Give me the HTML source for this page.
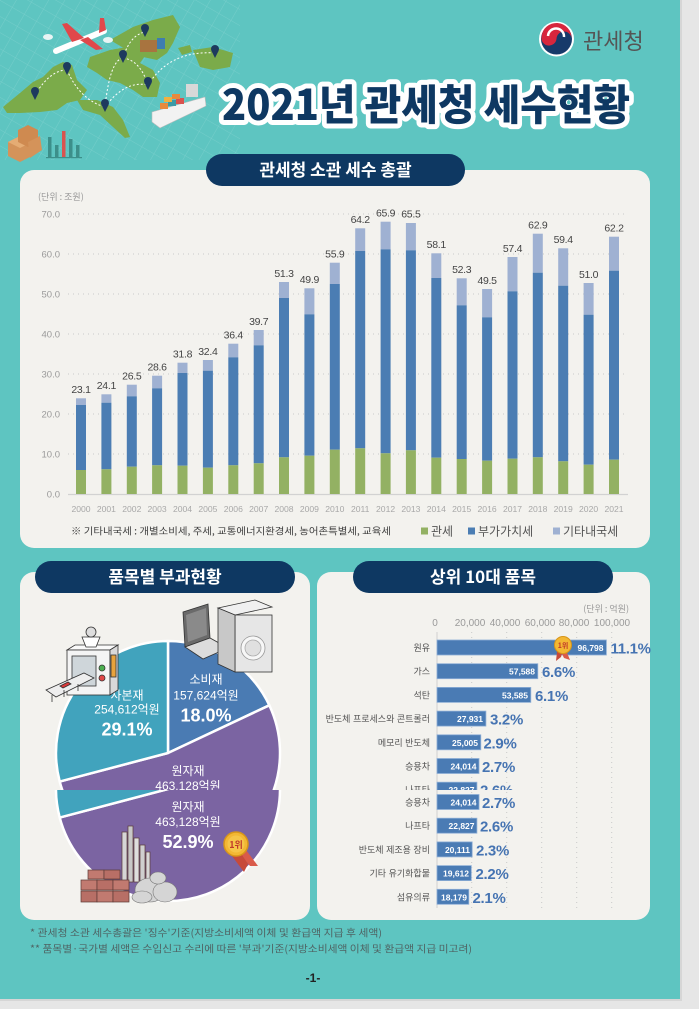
<!DOCTYPE html>
<html><head><meta charset="utf-8"><style>
html,body{margin:0;padding:0;background:#e6e6e6;}
svg{display:block;}
text{font-family:"Liberation Sans","Noto Sans CJK KR",sans-serif;}
.k{font-family:"Noto Sans CJK KR","Liberation Sans",sans-serif;}
</style></head><body>
<svg width="699" height="1009" viewBox="0 0 699 1009" xmlns="http://www.w3.org/2000/svg">
<defs>
<pattern id="grid" width="14" height="14" patternUnits="userSpaceOnUse" patternTransform="rotate(30)">
<path d="M0 0 L14 0 M0 0 L0 14" stroke="#ffffff" stroke-opacity="0.18" stroke-width="0.8"/>
</pattern>
<clipPath id="cA"><rect x="0" y="0" width="699" height="790"/></clipPath>
<clipPath id="cB"><rect x="0" y="790" width="699" height="130"/></clipPath>
</defs>
<rect x="0" y="0" width="699" height="1009" fill="#e6e6e6"/>
<rect x="0" y="0" width="680" height="999" fill="#5ec5c1"/>
<rect x="680" y="0" width="2" height="1000" fill="#d6d6d6"/>
<rect x="0" y="999" width="682" height="2" fill="#d6d6d6"/>

<!-- top-left illustration -->
<rect x="0" y="0" width="240" height="160" fill="url(#grid)"/>
<g fill="#7bab4a">
<polygon points="3,107 20,93 33,82 43,77 53,67 63,62 72,65 77,80 87,90 80,100 67,103 57,110 40,112 20,113 7,113"/>
<polygon points="77,100 97,100 113,107 123,120 130,137 125,138 113,127 100,115 83,110"/>
<polygon points="90,57 110,50 127,47 140,43 147,53 140,63 153,70 160,83 157,97 143,97 133,90 120,83 107,80 97,73 87,67"/>
<polygon points="110,40 133,27 153,20 173,15 180,27 173,43 167,53 157,60 143,57 127,50"/>
<polygon points="193,50 213,47 233,53 230,67 213,70 200,67"/>
<polygon points="178,48 190,45 192,52 182,55"/>
</g>
<g fill="none" stroke="#ffffff" stroke-width="1" stroke-dasharray="2,2">
<path d="M35,95 Q50,70 67,70"/><path d="M67,70 Q80,100 105,107"/><path d="M105,107 Q110,60 123,58"/>
<path d="M123,58 Q130,35 145,32"/><path d="M105,107 Q125,80 148,85"/><path d="M123,58 Q140,60 148,85"/>
<path d="M148,85 Q170,50 215,53"/>
</g>
<g fill="#1d3a5e">
<circle cx="145" cy="28" r="4"/><polygon points="141.5,30 148.5,30 145,37"/>
<circle cx="123" cy="54" r="4"/><polygon points="119.5,56 126.5,56 123,63"/>
<circle cx="67" cy="66" r="4"/><polygon points="63.5,68 70.5,68 67,75"/>
<circle cx="35" cy="91" r="4"/><polygon points="31.5,93 38.5,93 35,100"/>
<circle cx="105" cy="103" r="4"/><polygon points="101.5,105 108.5,105 105,112"/>
<circle cx="148" cy="81" r="4"/><polygon points="144.5,83 151.5,83 148,90"/>
<circle cx="215" cy="49" r="4"/><polygon points="211.5,51 218.5,51 215,58"/>
</g>
<!-- airplane -->
<line x1="56" y1="51" x2="104" y2="31" stroke="#ffffff" stroke-width="6" stroke-linecap="round"/>
<polygon points="72,42 62,24 67,23 84,38" fill="#e0484b"/>
<polygon points="80,40 96,50 103,49 88,37" fill="#e0484b"/>
<polygon points="99,33 100,18 104,18 106,30" fill="#e0484b"/>
<ellipse cx="48" cy="37" rx="5" ry="3" fill="#e9f4f4"/><ellipse cx="108" cy="40" rx="5" ry="3" fill="#e9f4f4"/>
<!-- truck -->
<rect x="140" y="40" width="17" height="12" fill="#a8743f"/><rect x="157" y="38" width="8" height="11" fill="#3e7db0"/>
<!-- ship -->
<polygon points="152,112 205,97 206,106 160,128 152,122" fill="#f2f2f2" stroke="#bbb" stroke-width="0.6"/>
<rect x="186" y="84" width="12" height="13" fill="#d8d8d8"/>
<rect x="160" y="103" width="8" height="6" fill="#e88a3c"/><rect x="168" y="100" width="8" height="6" fill="#3a9aa8"/>
<rect x="176" y="98" width="8" height="6" fill="#d9534f"/><rect x="164" y="97" width="8" height="5" fill="#f0b040"/>
<rect x="172" y="94" width="8" height="5" fill="#e88a3c"/>
<!-- boxes -->
<polygon points="8,142 20,136 32,142 32,156 20,162 8,156" fill="#d4935a"/>
<polygon points="20,136 32,142 20,148 8,142" fill="#e5ac74"/>
<polygon points="18,130 28,125 38,130 38,142 28,147 18,142" fill="#cf8a50"/>
<polygon points="28,142 40,136 42,150 30,158" fill="#d4935a"/>
<!-- bar icon -->
<rect x="48" y="137" width="3.5" height="20" fill="#3c8f8a"/><rect x="55" y="145" width="3.5" height="12" fill="#3c8f8a"/>
<rect x="62" y="131" width="3.5" height="26" fill="#d9534f"/><rect x="69" y="139" width="3.5" height="18" fill="#3c8f8a"/>
<rect x="76" y="145" width="3.5" height="12" fill="#3c8f8a"/><rect x="46" y="157" width="36" height="1.2" fill="#3c8f8a"/>

<!-- logo -->
<circle cx="556.5" cy="39" r="17.5" fill="#ffffff"/>
<circle cx="556.5" cy="39" r="15.5" fill="#173a6a"/>
<path d="M541.5,37 A15,15 0 0 1 571.5,39 A7.5,7.5 0 0 0 556.5,39 A7.5,7.5 0 0 1 541.5,37 Z" fill="#d7263d"/>
<path d="M548,36 A8,8 0 0 1 564,37" fill="none" stroke="#ffffff" stroke-width="2.5"/>
<text x="583" y="49" font-size="22" fill="#555555" class="k">관세청</text>

<!-- big title -->
<text x="426" y="120" text-anchor="middle" font-size="42" font-weight="900" fill="#0e3862" stroke="#ffffff" stroke-width="10" stroke-linejoin="round" paint-order="stroke" textLength="408" lengthAdjust="spacingAndGlyphs" class="k">2021년 관세청 세수현황</text>

<!-- main panel -->
<rect x="20" y="170" width="630" height="378" rx="14" fill="#f3f2ee"/>
<rect x="206" y="154" width="259" height="32" rx="16" fill="#0e3862"/>
<text x="335.5" y="176" text-anchor="middle" font-size="17" font-weight="bold" fill="#ffffff" class="k">관세청 소관 세수 총괄</text>

<text x="38" y="200" font-size="9" fill="#999" class="k">(단위 : 조원)</text>
<g stroke="#c9c9c9" stroke-width="1" stroke-dasharray="1,4">
<line x1="68" y1="214" x2="628" y2="214"/><line x1="68" y1="254" x2="628" y2="254"/>
<line x1="68" y1="294" x2="628" y2="294"/><line x1="68" y1="334" x2="628" y2="334"/>
<line x1="68" y1="374" x2="628" y2="374"/><line x1="68" y1="414" x2="628" y2="414"/>
<line x1="68" y1="454" x2="628" y2="454"/>
</g>
<line x1="68" y1="494.5" x2="628" y2="494.5" stroke="#d2d2d2" stroke-width="1.2"/>
<g font-size="9.5" fill="#9a9a9a" text-anchor="end">
<text x="60" y="217.5">70.0</text><text x="60" y="257.5">60.0</text><text x="60" y="297.5">50.0</text>
<text x="60" y="337.5">40.0</text><text x="60" y="377.5">30.0</text><text x="60" y="417.5">20.0</text>
<text x="60" y="457.5">10.0</text><text x="60" y="497.5">0.0</text>
</g>

<g id="bars">
<g fill="#9fb1d2"><rect x="76" y="398.3" width="10" height="6.7"/><rect x="101.4" y="394.3" width="10" height="8.4"/><rect x="126.8" y="384.7" width="10" height="11.6"/><rect x="152.1" y="375.7" width="10" height="12.6"/><rect x="177.5" y="362.7" width="10" height="10.3"/><rect x="202.9" y="360" width="10" height="10.7"/><rect x="228.3" y="343.7" width="10" height="13.6"/><rect x="253.7" y="330" width="10" height="15.3"/><rect x="279" y="282" width="10" height="16"/><rect x="304.4" y="288.3" width="10" height="26"/><rect x="329.8" y="262.7" width="10" height="21.3"/><rect x="355.2" y="228.3" width="10" height="22.7"/><rect x="380.6" y="221.7" width="10" height="27.6"/><rect x="405.9" y="223" width="10" height="27.3"/><rect x="431.3" y="253.3" width="10" height="24.7"/><rect x="456.7" y="278.3" width="10" height="27"/><rect x="482.1" y="289" width="10" height="28.3"/><rect x="507.5" y="257" width="10" height="34.3"/><rect x="532.8" y="233.7" width="10" height="39"/><rect x="558.2" y="248.3" width="10" height="37.4"/><rect x="583.6" y="283" width="10" height="31.7"/><rect x="609" y="236.7" width="10" height="34"/></g>
<g fill="#4b7db3"><rect x="76" y="405" width="10" height="65"/><rect x="101.4" y="402.7" width="10" height="66.6"/><rect x="126.8" y="396.3" width="10" height="70.4"/><rect x="152.1" y="388.3" width="10" height="77"/><rect x="177.5" y="373" width="10" height="92.7"/><rect x="202.9" y="370.7" width="10" height="97"/><rect x="228.3" y="357.3" width="10" height="108"/><rect x="253.7" y="345.3" width="10" height="118"/><rect x="279" y="298" width="10" height="159.3"/><rect x="304.4" y="314.3" width="10" height="141.4"/><rect x="329.8" y="284" width="10" height="165.7"/><rect x="355.2" y="251" width="10" height="197.3"/><rect x="380.6" y="249.3" width="10" height="204"/><rect x="405.9" y="250.3" width="10" height="200"/><rect x="431.3" y="278" width="10" height="179.7"/><rect x="456.7" y="305.3" width="10" height="153.7"/><rect x="482.1" y="317.3" width="10" height="143.4"/><rect x="507.5" y="291.3" width="10" height="167.4"/><rect x="532.8" y="272.7" width="10" height="184.6"/><rect x="558.2" y="285.7" width="10" height="175.6"/><rect x="583.6" y="314.7" width="10" height="150"/><rect x="609" y="270.7" width="10" height="189"/></g>
<g fill="#93b163"><rect x="76" y="470" width="10" height="24"/><rect x="101.4" y="469.3" width="10" height="24.7"/><rect x="126.8" y="466.7" width="10" height="27.3"/><rect x="152.1" y="465.3" width="10" height="28.7"/><rect x="177.5" y="465.7" width="10" height="28.3"/><rect x="202.9" y="467.7" width="10" height="26.3"/><rect x="228.3" y="465.3" width="10" height="28.7"/><rect x="253.7" y="463.3" width="10" height="30.7"/><rect x="279" y="457.3" width="10" height="36.7"/><rect x="304.4" y="455.7" width="10" height="38.3"/><rect x="329.8" y="449.7" width="10" height="44.3"/><rect x="355.2" y="448.3" width="10" height="45.7"/><rect x="380.6" y="453.3" width="10" height="40.7"/><rect x="405.9" y="450.3" width="10" height="43.7"/><rect x="431.3" y="457.7" width="10" height="36.3"/><rect x="456.7" y="459" width="10" height="35"/><rect x="482.1" y="460.7" width="10" height="33.3"/><rect x="507.5" y="458.7" width="10" height="35.3"/><rect x="532.8" y="457.3" width="10" height="36.7"/><rect x="558.2" y="461.3" width="10" height="32.7"/><rect x="583.6" y="464.7" width="10" height="29.3"/><rect x="609" y="459.7" width="10" height="34.3"/></g>
</g>
<g font-size="10.5" fill="#444" text-anchor="middle" letter-spacing="-0.3">
<text x="81" y="393">23.1</text><text x="106.4" y="389">24.1</text><text x="131.8" y="379.5">26.5</text><text x="157.1" y="370.5">28.6</text><text x="182.5" y="357.5">31.8</text><text x="207.9" y="355">32.4</text><text x="233.3" y="338.5">36.4</text><text x="258.7" y="325">39.7</text><text x="284" y="277">51.3</text><text x="309.4" y="283">49.9</text><text x="334.8" y="257.5">55.9</text><text x="360.2" y="223">64.2</text><text x="385.6" y="216.5">65.9</text><text x="410.9" y="217.5">65.5</text><text x="436.3" y="248">58.1</text><text x="461.7" y="273">52.3</text><text x="487.1" y="284">49.5</text><text x="512.5" y="252">57.4</text><text x="537.8" y="228.5">62.9</text><text x="563.2" y="243">59.4</text><text x="588.6" y="278">51.0</text><text x="614" y="231.5">62.2</text>
</g>
<g font-size="8.6" fill="#a8a8a8" text-anchor="middle">
<text x="81" y="512">2000</text><text x="106.4" y="512">2001</text><text x="131.8" y="512">2002</text><text x="157.1" y="512">2003</text><text x="182.5" y="512">2004</text><text x="207.9" y="512">2005</text><text x="233.3" y="512">2006</text><text x="258.7" y="512">2007</text><text x="284" y="512">2008</text><text x="309.4" y="512">2009</text><text x="334.8" y="512">2010</text><text x="360.2" y="512">2011</text><text x="385.6" y="512">2012</text><text x="410.9" y="512">2013</text><text x="436.3" y="512">2014</text><text x="461.7" y="512">2015</text><text x="487.1" y="512">2016</text><text x="512.5" y="512">2017</text><text x="537.8" y="512">2018</text><text x="563.2" y="512">2019</text><text x="588.6" y="512">2020</text><text x="614" y="512">2021</text>
</g>
<text x="71" y="534.5" font-size="9.6" fill="#3f3f3f" class="k" textLength="320" lengthAdjust="spacingAndGlyphs">※ 기타내국세 : 개별소비세, 주세, 교통에너지환경세, 농어촌특별세, 교육세</text>
<rect x="421" y="527.5" width="7" height="7" fill="#93b163"/>
<text x="431" y="535.5" font-size="12" fill="#555" class="k">관세</text>
<rect x="468" y="527.5" width="7" height="7" fill="#4b7db3"/>
<text x="478" y="535.5" font-size="12" fill="#555" class="k">부가가치세</text>
<rect x="553" y="527.5" width="7" height="7" fill="#9fb1d2"/>
<text x="563" y="535.5" font-size="12" fill="#555" class="k">기타내국세</text>

<!-- pie panel -->
<rect x="20" y="572" width="290" height="348" rx="14" fill="#f3f2ee"/>
<rect x="35" y="561" width="260" height="32" rx="16" fill="#0e3862"/>
<text x="165" y="583" text-anchor="middle" font-size="17" font-weight="bold" fill="#ffffff" class="k">품목별 부과현황</text>

<g clip-path="url(#cA)">
<g stroke="#ffffff" stroke-width="2.5" stroke-linejoin="round">
<path d="M168,753 L168,641 A112,112 0 0 1 269.34,705.31 Z" fill="#4a7bb3"/>
<path d="M168,753 L269.34,705.31 A112,112 0 1 1 59.70,781.54 Z" fill="#7b64a2"/>
<path d="M168,753 L59.70,781.54 A112,112 0 0 1 168,641 Z" fill="#41a3bd"/>
</g>
<g fill="#ffffff" text-anchor="middle" class="k">
<text x="206" y="683.5" font-size="12">소비재</text>
<text x="206" y="699.5" font-size="12">157,624억원</text>
<text x="206" y="721.5" font-size="18" font-weight="bold">18.0%</text>
<text x="127" y="699.5" font-size="12">자본재</text>
<text x="127" y="713.5" font-size="12">254,612억원</text>
<text x="127" y="735.5" font-size="18" font-weight="bold">29.1%</text>
<text x="188" y="775" font-size="12">원자재</text>
<text x="188" y="790" font-size="12">463,128억원</text>
</g>
</g>
<g clip-path="url(#cB)"><g transform="translate(0,36)">
<g stroke="#ffffff" stroke-width="2.5" stroke-linejoin="round">
<path d="M168,753 L168,641 A112,112 0 0 1 269.34,705.31 Z" fill="#4a7bb3"/>
<path d="M168,753 L269.34,705.31 A112,112 0 1 1 59.70,781.54 Z" fill="#7b64a2"/>
<path d="M168,753 L59.70,781.54 A112,112 0 0 1 168,641 Z" fill="#41a3bd"/>
</g>
<g fill="#ffffff" text-anchor="middle" class="k">
<text x="188" y="775" font-size="12">원자재</text>
<text x="188" y="790" font-size="12">463,128억원</text>
<text x="188" y="812" font-size="18" font-weight="bold">52.9%</text>
</g>
</g></g>

<!-- pie illustrations -->
<g stroke="#333" stroke-width="0.8">
<polygon points="67,650 110,650 118,645 75,645" fill="#fafafa"/>
<rect x="67" y="650" width="43" height="45" fill="#f4f4f4"/>
<polygon points="110,650 118,645 118,690 110,695" fill="#d9d9d9"/>
<rect x="72" y="656" width="24" height="30" fill="#cfd6da"/>
<circle cx="102" cy="668" r="3" fill="#4caf50"/><circle cx="102" cy="678" r="3" fill="#e04848"/>
<rect x="111" y="655" width="5" height="22" fill="#e8a33c"/>
<polygon points="82,637 100,637 96,647 86,647" fill="#ffffff"/>
<circle cx="91" cy="632" r="5" fill="#dddddd"/>
<polygon points="46,690 84,673 94,678 56,697" fill="#eeeeee"/>
<polygon points="60,686 68,682 71,684 63,688" fill="#d93a3a"/>
<line x1="52" y1="695" x2="52" y2="702"/><line x1="64" y1="690" x2="64" y2="697"/><line x1="78" y1="684" x2="78" y2="691"/>
</g>
<g stroke="#333" stroke-width="0.8">
<polygon points="183,612 208,604 210,638 185,647" fill="#6a6a6a"/>
<polygon points="186,615 206,608 207,635 188,642" fill="#8a8a8a" stroke="none"/>
<polygon points="185,647 210,638 228,648 203,659" fill="#dcdcdc"/>
<polygon points="218,608 255,600 272,607 235,615" fill="#f0f0f0"/>
<rect x="235" y="615" width="37" height="57" fill="#e6e6e6"/>
<polygon points="218,608 235,615 235,672 218,664" fill="#c8c8c8"/>
<circle cx="253" cy="648" r="12" fill="#f7f7f7" stroke="#999"/>
<circle cx="253" cy="648" r="8" fill="#e0e0e0" stroke="#aaa"/>
</g>
<g stroke="#5a3a36" stroke-width="0.7">
<rect x="122" y="832" width="5" height="50" fill="#d6d6d6"/><rect x="128" y="826" width="5" height="56" fill="#c8c8c8"/>
<rect x="134" y="838" width="5" height="44" fill="#dedede"/><rect x="140" y="845" width="5" height="37" fill="#cfcfcf"/>
<rect x="146" y="852" width="4" height="30" fill="#d8d8d8"/>
<rect x="88" y="870" width="16" height="9" fill="#c17a70"/><rect x="104" y="870" width="16" height="9" fill="#b86f66"/>
<rect x="81" y="880" width="16" height="10" fill="#c17a70"/><rect x="97" y="880" width="16" height="10" fill="#b86f66"/><rect x="113" y="880" width="16" height="10" fill="#c17a70"/>
<rect x="81" y="891" width="16" height="11" fill="#b86f66"/><rect x="97" y="891" width="16" height="11" fill="#c17a70"/><rect x="113" y="891" width="16" height="11" fill="#b86f66"/>
</g>
<g fill="#d5d5d5" stroke="#777" stroke-width="0.6">
<ellipse cx="150" cy="890" rx="15" ry="12"/><ellipse cx="165" cy="892" rx="12" ry="10"/><ellipse cx="142" cy="897" rx="10" ry="6"/><ellipse cx="158" cy="878" rx="8" ry="6"/>
</g>
<polygon points="238,852 246,850 258,866 250,866" fill="#d95b4a"/>
<polygon points="240,852 232,856 244,872 248,864" fill="#c74a3a"/>
<circle cx="236" cy="844" r="12" fill="#f3b733" stroke="#d8961a" stroke-width="1.5"/>
<circle cx="236" cy="844" r="8.5" fill="#f6c548"/>
<text x="236" y="848" text-anchor="middle" font-size="9" font-weight="bold" fill="#c0392b" class="k">1위</text>

<!-- top 10 panel -->
<rect x="317" y="572" width="333" height="348" rx="14" fill="#f3f2ee"/>
<rect x="353" y="561" width="260" height="32" rx="16" fill="#0e3862"/>
<text x="483" y="583" text-anchor="middle" font-size="17" font-weight="bold" fill="#ffffff" class="k">상위 10대 품목</text>
<text x="629" y="612" text-anchor="end" font-size="9" fill="#999" class="k">(단위 : 억원)</text>
<g font-size="10" fill="#9a9a9a" text-anchor="middle">
<text x="435" y="626">0</text><text x="470" y="626">20,000</text><text x="505" y="626">40,000</text>
<text x="540" y="626">60,000</text><text x="574" y="626">80,000</text><text x="612" y="626">100,000</text>
</g>
<g stroke="#c9c9c9" stroke-width="1" stroke-dasharray="1,4">
<line x1="471.7" y1="632" x2="471.7" y2="908"/><line x1="506.7" y1="632" x2="506.7" y2="908"/>
<line x1="541.7" y1="632" x2="541.7" y2="908"/><line x1="576.7" y1="632" x2="576.7" y2="908"/>
<line x1="611.7" y1="632" x2="611.7" y2="908"/>
</g>
<line x1="437" y1="632" x2="437" y2="908" stroke="#d0d0d0" stroke-width="1"/>

<g clip-path="url(#cA)">
<g fill="#4a7bb4" stroke="#8eaed6" stroke-width="0.8">
<rect x="437" y="640" width="169.4" height="15"/><rect x="437" y="663.7" width="100.8" height="15"/>
<rect x="437" y="687.4" width="93.8" height="15"/><rect x="437" y="711.1" width="48.9" height="15"/>
<rect x="437" y="734.8" width="43.8" height="15"/><rect x="437" y="758.5" width="42" height="15"/>
<rect x="437" y="782.2" width="39.9" height="15"/>
</g>
<g font-size="9" fill="#555" text-anchor="end" class="k">
<text x="430" y="651">원유</text><text x="430" y="674.7">가스</text><text x="430" y="698.4">석탄</text>
<text x="430" y="722.1">반도체 프로세스와 콘트롤러</text><text x="430" y="745.8">메모리 반도체</text>
<text x="430" y="769.5">승용차</text><text x="430" y="793.2">나프타</text>
</g>
<g font-size="8.5" font-weight="bold" fill="#ffffff" text-anchor="end">
<text x="603.5" y="651">96,798</text><text x="535" y="674.7">57,588</text><text x="528" y="698.4">53,585</text>
<text x="483" y="722.1">27,931</text><text x="478" y="745.8">25,005</text><text x="476.5" y="769.5">24,014</text>
<text x="474.5" y="793.2">22,827</text>
</g>
<g font-size="15" font-weight="bold" fill="#4674b2" letter-spacing="-0.3">
<text x="610.5" y="653.5">11.1%</text><text x="542" y="677.2">6.6%</text><text x="535" y="700.9">6.1%</text>
<text x="490" y="724.6">3.2%</text><text x="483.5" y="748.3">2.9%</text><text x="482" y="772">2.7%</text>
<text x="480" y="795.7">2.6%</text>
</g>
</g>
<g clip-path="url(#cB)"><g transform="translate(0,36)">
<g fill="#4a7bb4" stroke="#8eaed6" stroke-width="0.8">
<rect x="437" y="758.5" width="42" height="15"/><rect x="437" y="782.2" width="39.9" height="15"/>
<rect x="437" y="805.9" width="35.2" height="15"/><rect x="437" y="829.6" width="34.3" height="15"/>
<rect x="437" y="853.3" width="31.8" height="15"/>
</g>
<g font-size="9" fill="#555" text-anchor="end" class="k">
<text x="430" y="769.5">승용차</text><text x="430" y="793.2">나프타</text><text x="430" y="816.9">반도체 제조용 장비</text>
<text x="430" y="840.6">기타 유기화합물</text><text x="430" y="864.3">섬유의류</text>
</g>
<g font-size="8.5" font-weight="bold" fill="#ffffff" text-anchor="end">
<text x="476.5" y="769.5">24,014</text><text x="474.5" y="793.2">22,827</text><text x="470" y="816.9">20,111</text>
<text x="469" y="840.6">19,612</text><text x="467" y="864.3">18,179</text>
</g>
<g font-size="15" font-weight="bold" fill="#4674b2" letter-spacing="-0.3">
<text x="482" y="772">2.7%</text><text x="480" y="795.7">2.6%</text><text x="476" y="819.4">2.3%</text>
<text x="475.5" y="843.1">2.2%</text><text x="472.5" y="866.8">2.1%</text>
</g>
</g></g>
<!-- medal on 원유 -->
<polygon points="560,650 566,650 570,660 564,658" fill="#d95b4a"/>
<polygon points="563,650 557,652 556,661 561,657" fill="#c74a3a"/>
<circle cx="563" cy="645" r="8.5" fill="#f3b733" stroke="#d8961a" stroke-width="1"/>
<text x="563" y="648" text-anchor="middle" font-size="7" font-weight="bold" fill="#c0392b" class="k">1위</text>

<!-- footer -->
<text x="30" y="936.5" font-size="10" fill="#4f6464" class="k" textLength="352" lengthAdjust="spacingAndGlyphs">* 관세청 소관 세수총괄은 '징수'기준(지방소비세액 이체 및 환급액 지급 후 세액)</text>
<text x="30" y="952.5" font-size="10" fill="#4f6464" class="k" textLength="442" lengthAdjust="spacingAndGlyphs">** 품목별·국가별 세액은 수입신고 수리에 따른 '부과'기준(지방소비세액 이체 및 환급액 지급 미고려)</text>
<text x="313" y="982" text-anchor="middle" font-size="12" font-weight="bold" fill="#222">-1-</text>
</svg>
</body></html>
